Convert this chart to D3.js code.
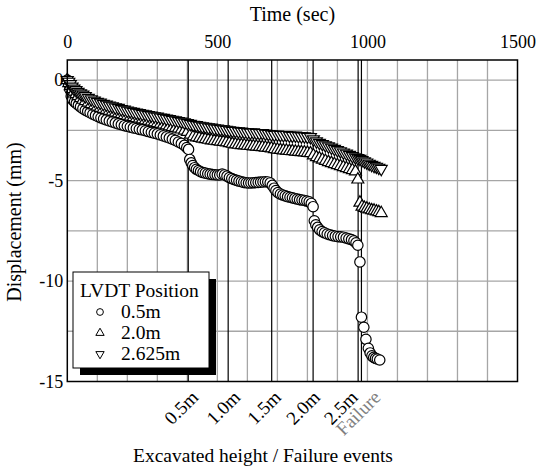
<!DOCTYPE html>
<html>
<head>
<meta charset="utf-8">
<script src="https://cdn.jsdelivr.net/npm/d3@7"></script>
<style>
  body { margin: 0; background: #fff; }
</style>
</head>
<body>
<div id="chart"></div>
<script>
  // LVDT displacement vs time, with excavation / failure events

  const margin = {top: 60, right: 22.5, bottom: 88.5, left: 67.3},
    width = 540 - margin.left - margin.right,
    height = 470 - margin.top - margin.bottom,
    serif = "'Liberation Serif', 'Times New Roman', 'DejaVu Serif', serif";

  const xTicks = [0, 500, 1000, 1500],
    yTicks = [0, -5, -10, -15],
    xGrid = [100, 200, 300, 400, 500, 600, 700, 800, 900, 1000, 1100, 1200, 1300, 1400],
    yGrid = [0, -2.5, -5, -7.5, -10, -12.5];

  // event lines (sec) and where their labels sit
  const eventTimes = [403, 536, 681, 819, 969, 980],
    eventNames = ["0.5m", "1.0m", "1.5m", "2.0m", "2.5m", "Failure"],
    labelTimes = [440, 580, 716, 846, 972, 1048];

  // LVDT 0.5m : [time, displacement]
  const lvdt05 = [[0,0],[4,-0.15],[8,-0.45],[13,-0.8],[18,-0.98],[24,-1.08],[30,-1.16],[37,-1.25],[44,-1.33],[52,-1.42],
    [60,-1.5],[68,-1.56],[76,-1.62],[85,-1.7],[94,-1.76],[103,-1.82],[112,-1.88],[121,-1.93],[130,-1.98],[140,-2.03],
    [150,-2.08],[160,-2.13],[170,-2.18],[180,-2.22],[190,-2.27],[200,-2.3],[210,-2.34],[220,-2.38],[230,-2.41],[240,-2.45],
    [250,-2.48],[260,-2.52],[270,-2.56],[280,-2.6],[290,-2.64],[300,-2.68],[310,-2.73],[320,-2.78],[330,-2.83],[340,-2.88],
    [350,-2.94],[360,-3.0],[370,-3.08],[380,-3.15],[390,-3.25],[398,-3.36],[404,-3.45],[408,-3.95],[413,-4.12],[418,-4.25],
    [424,-4.36],[430,-4.44],[437,-4.5],[444,-4.56],[452,-4.6],[460,-4.63],[468,-4.66],[476,-4.68],[484,-4.7],[492,-4.71],
    [500,-4.72],[508,-4.72],[516,-4.68],[524,-4.72],[532,-4.78],[540,-4.85],[548,-4.9],[556,-4.95],[564,-4.99],[572,-5.03],
    [580,-5.06],[588,-5.09],[596,-5.11],[604,-5.12],[612,-5.12],[620,-5.11],[628,-5.1],[636,-5.09],[644,-5.08],[652,-5.07],
    [660,-5.06],[668,-5.07],[676,-5.12],[683,-5.24],[689,-5.38],[695,-5.5],[702,-5.6],[710,-5.67],[718,-5.72],[726,-5.76],
    [734,-5.8],[742,-5.83],[750,-5.86],[758,-5.89],[766,-5.92],[774,-5.95],[782,-5.97],[790,-5.99],[798,-6.02],[806,-6.06],
    [813,-6.14],[819,-6.3],[823,-7.0],[828,-7.2],[834,-7.33],[841,-7.45],[849,-7.54],[857,-7.6],[866,-7.66],[875,-7.7],
    [884,-7.74],[893,-7.77],[902,-7.79],[911,-7.8],[920,-7.82],[929,-7.86],[938,-7.9],[947,-7.94],[955,-8.0],[962,-8.1],
    [968,-8.22],[975,-9.05],[980,-11.8],[988,-12.3],[995,-12.9],[1003,-13.35],[1009,-13.58],[1015,-13.72],[1021,-13.8],
    [1027,-13.85],[1033,-13.88],[1041,-13.93]];

  // sample times shared by the two upper LVDTs
  const triTimes = [0,5,10,16,22,29,36,44,52,60,70,80,90,100,110,120,130,140,150,160,
    170,180,190,200,210,220,230,240,250,260,270,280,290,300,310,320,330,340,350,360,
    370,380,390,400,410,420,430,440,450,460,470,480,490,500,510,520,530,540,550,560,
    570,580,590,600,610,620,630,640,650,660,670,680,690,700,710,720,730,740,750,760,
    770,780,790,800,810,820,830,840,850,860,870,880,890,900,910,920,930,940,950,960,
    968,975,982,990,998,1006,1014,1022,1030,1038,1046];

  // LVDT 2.0m
  const lvdt20 = [0,-0.15,-0.3,-0.45,-0.58,-0.7,-0.8,-0.9,-0.98,-1.05,-1.12,-1.2,-1.26,-1.32,-1.38,-1.43,-1.48,-1.53,-1.57,-1.62,
    -1.66,-1.7,-1.74,-1.78,-1.82,-1.85,-1.89,-1.92,-1.96,-2.0,-2.03,-2.07,-2.1,-2.14,-2.18,-2.22,-2.26,-2.3,-2.34,-2.38,
    -2.42,-2.46,-2.52,-2.58,-2.72,-2.8,-2.85,-2.88,-2.92,-2.94,-2.97,-3.0,-3.02,-3.04,-3.06,-3.08,-3.1,-3.14,-3.17,-3.2,
    -3.22,-3.24,-3.25,-3.27,-3.28,-3.3,-3.31,-3.33,-3.34,-3.36,-3.38,-3.4,-3.44,-3.46,-3.48,-3.5,-3.51,-3.53,-3.54,-3.56,
    -3.57,-3.59,-3.6,-3.62,-3.64,-3.75,-3.84,-3.9,-3.96,-4.02,-4.08,-4.13,-4.18,-4.23,-4.28,-4.33,-4.38,-4.43,-4.48,-4.55,
    -4.95,-6.1,-6.3,-6.36,-6.4,-6.44,-6.48,-6.5,-6.54,-6.57,-6.62];

  // LVDT 2.625m
  const lvdt2625 = [0,-0.08,-0.2,-0.32,-0.42,-0.5,-0.58,-0.66,-0.72,-0.8,-0.88,-0.95,-1.02,-1.08,-1.12,-1.18,-1.22,-1.27,-1.3,-1.36,
    -1.38,-1.44,-1.47,-1.52,-1.55,-1.58,-1.62,-1.64,-1.68,-1.7,-1.74,-1.76,-1.8,-1.82,-1.86,-1.88,-1.92,-1.94,-1.98,-2.0,
    -2.04,-2.06,-2.1,-2.14,-2.18,-2.22,-2.24,-2.27,-2.3,-2.32,-2.35,-2.36,-2.4,-2.41,-2.44,-2.45,-2.48,-2.5,-2.52,-2.53,
    -2.55,-2.56,-2.58,-2.6,-2.61,-2.6,-2.63,-2.64,-2.63,-2.66,-2.68,-2.7,-2.72,-2.71,-2.73,-2.74,-2.73,-2.76,-2.77,-2.76,
    -2.79,-2.8,-2.8,-2.82,-2.84,-2.95,-3.05,-3.12,-3.18,-3.24,-3.3,-3.36,-3.42,-3.48,-3.54,-3.6,-3.66,-3.72,-3.78,-3.84,
    -3.88,-3.92,-3.98,-4.04,-4.1,-4.16,-4.22,-4.27,-4.31,-4.36,-4.42];

  const legendItems = ["0.5m", "2.0m", "2.625m"];

  const root = d3.select("#chart").append("svg")
      .attr("width", 540)
      .attr("height", 470)
      .style("font-family", serif);

  const svg = root.append("g")
      .attr("transform", "translate(" + margin.left + "," + margin.top + ")");

  const x = d3.scaleLinear().domain([0, 1500]).range([0, width]);
  const y = d3.scaleLinear().domain([1, -15]).range([0, height]);

  //grid
  svg.selectAll(".vgrid").data(xGrid).enter().append("line")
      .attr("x1", d => x(d)).attr("x2", d => x(d))
      .attr("y1", 0).attr("y2", height)
      .attr("stroke", "#a6a6a6").attr("stroke-width", 1.3);

  svg.selectAll(".hgrid").data(yGrid).enter().append("line")
      .attr("x1", 0).attr("x2", width)
      .attr("y1", d => y(d)).attr("y2", d => y(d))
      .attr("stroke", "#a6a6a6").attr("stroke-width", 1.3);

  //event lines
  svg.selectAll(".event").data(eventTimes).enter().append("line")
      .attr("x1", d => x(d)).attr("x2", d => x(d))
      .attr("y1", 0).attr("y2", height)
      .attr("stroke", "#000").attr("stroke-width", 1.2);

  //axes (labels only), plain hyphen for negatives
  const topAxis = svg.append("g")
      .call(d3.axisTop(x).tickValues(xTicks).tickSize(0).tickPadding(12).tickFormat(d => String(d)));
  topAxis.select(".domain").remove();
  topAxis.attr("font-family", null).attr("font-size", null);
  topAxis.selectAll("text").style("font-size", "18px").style("font-family", serif).attr("fill", "#000");

  const leftAxis = svg.append("g")
      .call(d3.axisLeft(y).tickValues(yTicks).tickSize(0).tickPadding(4).tickFormat(d => String(d)));
  leftAxis.select(".domain").remove();
  leftAxis.attr("font-family", null).attr("font-size", null);
  leftAxis.selectAll("text").style("font-size", "18px").style("font-family", serif).attr("fill", "#000");

  //markers
  const circleSym = d3.symbol().type(d3.symbolCircle).size(85);
  const triSym = d3.symbol().type(d3.symbolTriangle).size(62);

  svg.selectAll(".p05").data(lvdt05).enter().append("path")
      .attr("d", circleSym)
      .attr("transform", d => "translate(" + x(d[0]) + "," + y(d[1]) + ")")
      .attr("fill", "#fff").attr("stroke", "#000").attr("stroke-width", 1.2);

  svg.selectAll(".p20").data(lvdt20).enter().append("path")
      .attr("d", triSym)
      .attr("transform", (d, i) => "translate(" + x(triTimes[i]) + "," + y(d) + ")")
      .attr("fill", "#fff").attr("stroke", "#000").attr("stroke-width", 1.2);

  svg.selectAll(".p2625").data(lvdt2625).enter().append("path")
      .attr("d", triSym)
      .attr("transform", (d, i) => "translate(" + x(triTimes[i]) + "," + y(d) + ") rotate(180)")
      .attr("fill", "#fff").attr("stroke", "#000").attr("stroke-width", 1.2);

  //plot frame
  svg.append("rect")
      .attr("width", width).attr("height", height)
      .attr("fill", "none").attr("stroke", "#000").attr("stroke-width", 1.5);

  //event labels under the axis
  svg.selectAll(".eventLabel").data(eventNames).enter().append("text")
      .text(d => d)
      .attr("transform", (d, i) => "translate(" + x(labelTimes[i]) + "," + (height + 17) + ") rotate(-45)")
      .style("text-anchor", "end")
      .style("font-size", "19px")
      .style("font-family", serif)
      .style("fill", d => d === "Failure" ? "#808080" : "#000");

  //axis titles
  svg.append("text")
      .attr("x", width / 2).attr("y", -39)
      .style("text-anchor", "middle").style("font-size", "20px").style("font-family", serif)
      .text("Time (sec)");

  svg.append("text")
      .attr("x", 263 - margin.left).attr("y", height + 80)
      .style("text-anchor", "middle").style("font-size", "19.5px").style("font-family", serif)
      .text("Excavated height / Failure events");

  svg.append("text")
      .attr("transform", "translate(" + (21 - margin.left) + "," + (222 - margin.top) + ") rotate(-90)")
      .style("text-anchor", "middle").style("font-size", "20px").style("font-family", serif)
      .text("Displacement (mm)");

  //legend with drop shadow
  const legend = svg.append("g")
      .attr("transform", "translate(" + (73 - margin.left) + "," + (272 - margin.top) + ")");

  legend.append("rect")
      .attr("x", 7).attr("y", 7).attr("width", 136).attr("height", 96)
      .attr("fill", "#000");
  legend.append("rect")
      .attr("width", 136).attr("height", 96)
      .attr("fill", "#fff").attr("stroke", "#000").attr("stroke-width", 1);

  legend.append("text")
      .attr("x", 7).attr("y", 25)
      .style("font-size", "19.5px").style("font-family", serif)
      .text("LVDT Position");

  const legendSyms = [d3.symbol().type(d3.symbolCircle).size(36),
    d3.symbol().type(d3.symbolTriangle).size(30),
    d3.symbol().type(d3.symbolTriangle).size(30)];

  const rows = legend.selectAll(".row").data(legendItems).enter().append("g")
      .attr("transform", (d, i) => "translate(0," + (46 + i * 21) + ")");

  rows.append("path")
      .attr("d", (d, i) => legendSyms[i]())
      .attr("transform", (d, i) => "translate(27,-6)" + (i === 2 ? " rotate(180)" : ""))
      .attr("fill", "#fff").attr("stroke", "#000").attr("stroke-width", 1);

  rows.append("text")
      .attr("x", 48).attr("y", 0)
      .style("font-size", "19.5px").style("font-family", serif)
      .text(d => d);
</script>
</body>
</html>
